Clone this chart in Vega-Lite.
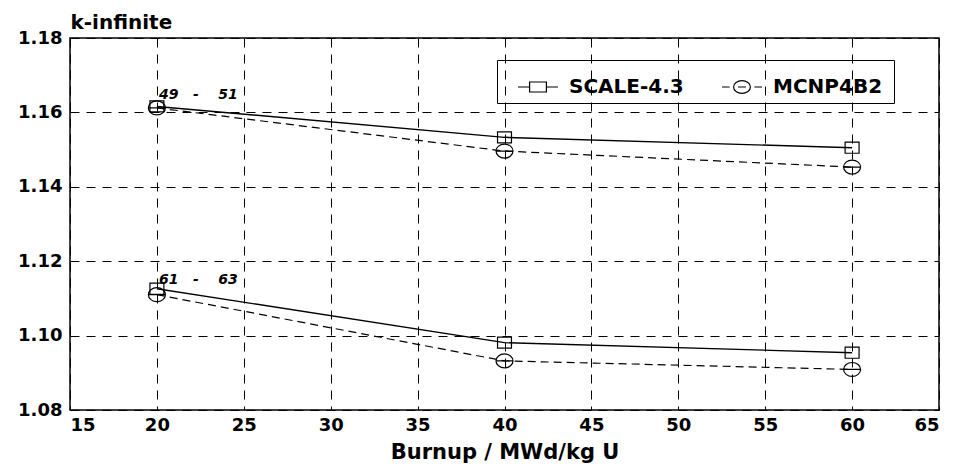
{
  "$schema": "https://vega.github.io/schema/vega-lite/v6.json",
  "width": 869,
  "height": 372,
  "autosize": {"type": "none"},
  "padding": {"left": 70, "top": 38, "right": 14, "bottom": 58},
  "background": "white",
  "config": {
    "view": {"stroke": "black", "strokeWidth": 1.5},
    "font": "DejaVu Sans",
    "axis": {
      "domain": false,
      "ticks": false,
      "grid": true,
      "gridColor": "black",
      "gridDash": [9, 7],
      "gridWidth": 1,
      "gridOpacity": 1,
      "labelFont": "DejaVu Sans",
      "labelFontSize": 18,
      "labelFontWeight": "bold",
      "labelColor": "black",
      "titleFont": "DejaVu Sans",
      "titleFontSize": 21,
      "titleFontWeight": "bold",
      "titleColor": "black"
    }
  },
  "datasets": {
    "points": [
      {"series": "SCALE-4.3", "group": "49-51", "burnup": 20, "k": 1.1616},
      {"series": "SCALE-4.3", "group": "49-51", "burnup": 40, "k": 1.1533},
      {"series": "SCALE-4.3", "group": "49-51", "burnup": 60, "k": 1.1505},
      {"series": "MCNP4B2", "group": "49-51", "burnup": 20, "k": 1.1612},
      {"series": "MCNP4B2", "group": "49-51", "burnup": 40, "k": 1.1496},
      {"series": "MCNP4B2", "group": "49-51", "burnup": 60, "k": 1.1453},
      {"series": "SCALE-4.3", "group": "61-63", "burnup": 20, "k": 1.1126},
      {"series": "SCALE-4.3", "group": "61-63", "burnup": 40, "k": 1.0981},
      {"series": "SCALE-4.3", "group": "61-63", "burnup": 60, "k": 1.0954},
      {"series": "MCNP4B2", "group": "61-63", "burnup": 20, "k": 1.1110},
      {"series": "MCNP4B2", "group": "61-63", "burnup": 40, "k": 1.0932},
      {"series": "MCNP4B2", "group": "61-63", "burnup": 60, "k": 1.0909}
    ],
    "labels": [
      {"burnup": 20, "k": 1.1648, "text": "49\u00a0\u00a0\u00a0-\u00a0\u00a0\u00a0\u00a051"},
      {"burnup": 20, "k": 1.1150, "text": "61\u00a0\u00a0\u00a0-\u00a0\u00a0\u00a0\u00a063"}
    ]
  },
  "layer": [
    {
      "data": {"name": "points"},
      "transform": [{"filter": "datum.series == 'SCALE-4.3'"}],
      "mark": {"type": "line", "color": "black", "strokeWidth": 1.4},
      "encoding": {
        "x": {"field": "burnup", "type": "quantitative", "scale": {"domain": [15, 65], "nice": false, "zero": false},
              "axis": {"values": [15, 20, 25, 30, 35, 40, 45, 50, 55, 60, 65], "title": "Burnup / MWd/kg U", "labelPadding": 6, "titlePadding": 7}},
        "y": {"field": "k", "type": "quantitative", "scale": {"domain": [1.08, 1.18], "nice": false, "zero": false},
              "axis": {"values": [1.08, 1.10, 1.12, 1.14, 1.16, 1.18], "format": ".2f", "labelPadding": 8, "title": "k-infinite",
                       "titleAngle": 0, "titleX": 0, "titleY": -6, "titleAlign": "left", "titleBaseline": "bottom", "titleFontSize": 20}},
        "detail": {"field": "group"}
      }
    },
    {
      "data": {"name": "points"},
      "transform": [{"filter": "datum.series == 'MCNP4B2'"}],
      "mark": {"type": "line", "color": "black", "strokeWidth": 1.2, "strokeDash": [8, 5]},
      "encoding": {
        "x": {"field": "burnup", "type": "quantitative"},
        "y": {"field": "k", "type": "quantitative"},
        "detail": {"field": "group"}
      }
    },
    {
      "data": {"name": "points"},
      "transform": [{"filter": "datum.series == 'SCALE-4.3'"}],
      "mark": {"type": "point", "filled": false, "color": "black", "strokeWidth": 1.2, "size": 289, "opacity": 1,
               "shape": "M-0.82,-0.65H0.82V0.65H-0.82Z"},
      "encoding": {
        "x": {"field": "burnup", "type": "quantitative"},
        "y": {"field": "k", "type": "quantitative"}
      }
    },
    {
      "data": {"name": "points"},
      "transform": [{"filter": "datum.series == 'MCNP4B2'"}],
      "mark": {"type": "point", "filled": false, "color": "black", "strokeWidth": 1.2, "size": 289, "opacity": 1,
               "shape": "M-1,0A1,0.82 0 1,1 1,0A1,0.82 0 1,1 -1,0M-1,0H1"},
      "encoding": {
        "x": {"field": "burnup", "type": "quantitative"},
        "y": {"field": "k", "type": "quantitative"}
      }
    },
    {
      "data": {"name": "points"},
      "transform": [{"filter": "datum.burnup < 0"}],
      "mark": {"type": "point", "filled": false, "color": "black", "strokeWidth": 1.2, "opacity": 1},
      "encoding": {
        "x": {"field": "burnup", "type": "quantitative"},
        "y": {"field": "k", "type": "quantitative"},
        "shape": {"field": "series", "type": "nominal",
                  "scale": {"domain": ["SCALE-4.3", "MCNP4B2"],
                            "range": ["M-1,0H-0.42M0.42,0H1M-0.42,-0.25H0.42V0.25H-0.42Z",
                                      "M-1,0H-0.62M0.62,0H1M-0.42,0A0.42,0.32 0 1,1 0.42,0A0.42,0.32 0 1,1 -0.42,0M-0.2,0H0.2"]},
                  "legend": {
                    "title": ".",
                    "titleOrient": "right",
                    "titleOpacity": 0,
                    "titleFontSize": 10,
                    "titlePadding": 2,
                    "orient": "none",
                    "legendX": 427,
                    "legendY": 22,
                    "direction": "horizontal",
                    "strokeColor": "black",
                    "padding": 6,
                    "columnPadding": 23,
                    "symbolOffset": 14,
                    "labelFont": "DejaVu Sans",
                    "labelFontSize": 20,
                    "labelFontWeight": "bold",
                    "labelColor": "black",
                    "labelOffset": 10,
                    "symbolSize": 1600,
                    "symbolStrokeColor": "black",
                    "symbolFillColor": "transparent",
                    "symbolStrokeWidth": 1.2,
                    "symbolOpacity": 1
                  }}
      }
    },
    {
      "data": {"name": "labels"},
      "mark": {"type": "text", "align": "left", "baseline": "middle", "dx": 2, "font": "DejaVu Sans", "fontSize": 14, "fontWeight": "bold", "fontStyle": "italic", "color": "black"},
      "encoding": {
        "x": {"field": "burnup", "type": "quantitative"},
        "y": {"field": "k", "type": "quantitative"},
        "text": {"field": "text"}
      }
    }
  ]
}
